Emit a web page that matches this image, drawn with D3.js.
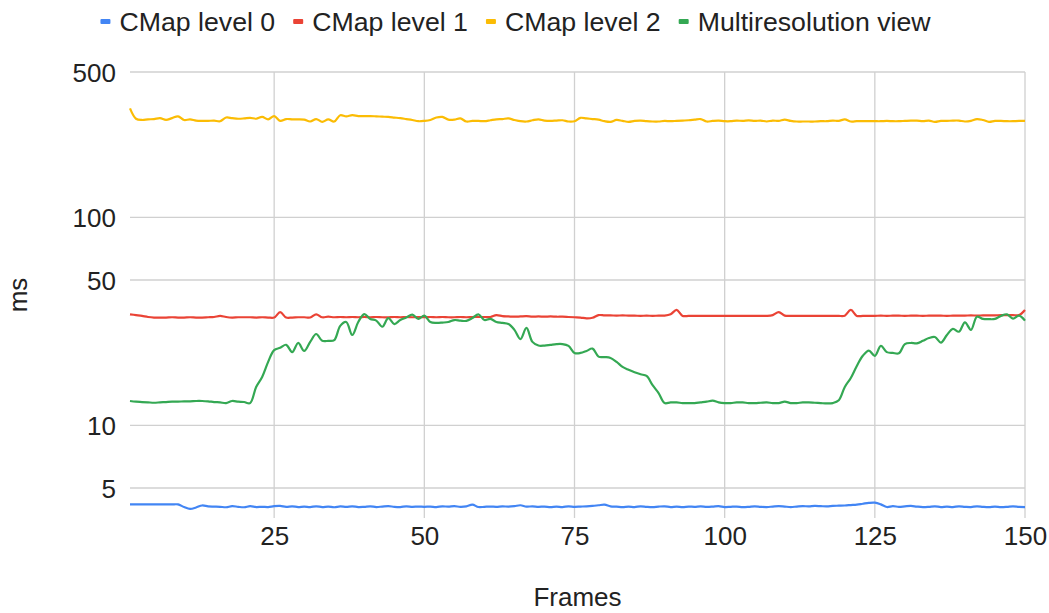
<!DOCTYPE html>
<html><head><meta charset="utf-8">
<script src="https://cdn.jsdelivr.net/npm/d3@7"></script>
<style>body{margin:0;background:#fff;} text{font-family:"Liberation Sans",Arial,sans-serif;fill:#222;}</style>
</head><body><svg id="c" width="1049" height="613"></svg>
<script>
const seriesNames = ["CMap level 0","CMap level 1","CMap level 2","Multiresolution view"];
const seriesColors = ["#4285F4","#EA4335","#FBBC04","#34A853"];
const xTicks = [25,50,75,100,125,150];
const yTicks = [5,10,50,100,500];
const xTitle = "Frames", yTitle = "ms";

const level0 = [4.17,4.17,4.17,4.17,4.17,4.17,4.17,4.17,4.17,4.05,3.97,4.03,4.12,4.08,4.07,4.06,4.04,4.09,4.06,4.04,
4.09,4.05,4.06,4.05,4.09,4.10,4.06,4.08,4.05,4.07,4.05,4.08,4.05,4.07,4.04,4.08,4.06,4.08,4.05,4.06,
4.08,4.05,4.07,4.09,4.06,4.05,4.08,4.06,4.07,4.06,4.07,4.05,4.08,4.07,4.09,4.06,4.08,4.16,4.05,4.06,
4.07,4.06,4.08,4.07,4.09,4.13,4.07,4.08,4.06,4.07,4.05,4.07,4.05,4.08,4.06,4.07,4.08,4.10,4.13,4.16,
4.08,4.07,4.05,4.07,4.05,4.08,4.06,4.05,4.07,4.08,4.05,4.07,4.05,4.07,4.06,4.08,4.06,4.07,4.09,4.05,
4.06,4.07,4.05,4.06,4.08,4.06,4.05,4.07,4.09,4.07,4.05,4.07,4.09,4.08,4.10,4.09,4.08,4.10,4.11,4.12,
4.14,4.16,4.20,4.24,4.25,4.17,4.05,4.09,4.06,4.08,4.10,4.07,4.05,4.06,4.08,4.05,4.07,4.05,4.08,4.06,
4.05,4.08,4.06,4.05,4.07,4.05,4.06,4.08,4.06,4.05];

const level1 = [34.2,33.9,33.6,33.2,33.0,33.0,33.0,33.1,33.0,33.0,33.1,33.0,33.0,33.1,33.2,33.6,33.2,33.0,33.1,33.1,
33.1,33.0,33.1,33.0,33.0,35.0,33.0,33.0,33.1,33.1,33.0,34.2,33.1,33.3,33.1,33.2,33.1,33.2,33.1,33.2,
33.1,33.2,33.1,33.1,33.2,33.1,33.2,33.1,33.2,33.1,33.2,33.1,33.2,33.1,33.1,33.2,33.1,33.2,33.2,33.2,
33.2,33.9,33.5,33.4,33.3,33.4,33.5,33.3,33.4,33.3,33.4,33.3,33.3,33.2,33.1,33.0,32.7,32.9,33.9,33.8,
33.8,33.7,33.8,33.7,33.7,33.6,33.7,33.6,33.7,33.7,34.2,35.9,33.6,33.6,33.6,33.6,33.6,33.6,33.6,33.6,
33.6,33.6,33.6,33.6,33.6,33.6,33.6,33.9,35.0,33.7,33.6,33.6,33.6,33.6,33.6,33.6,33.6,33.6,33.6,33.7,
35.9,33.6,33.6,33.6,33.6,33.7,33.6,33.7,33.7,33.6,33.7,33.7,33.6,33.7,33.7,33.7,33.6,33.7,33.7,33.7,
33.8,33.7,33.8,33.8,33.8,33.9,33.9,33.9,33.9,35.9];

const level2 = [334,298,294,296,297,300,294,300,306,294,296,292,291,291,292,290,302,300,298,299,
301,298,304,296,307,291,297,296,296,295,289,297,288,296,289,310,306,310,307,307,
307,306,305,304,302,300,297,294,290,291,294,302,304,295,295,299,289,291,291,290,
293,296,297,299,294,290,289,293,296,292,291,292,293,289,290,301,299,297,295,290,
288,294,291,288,291,292,290,289,289,291,290,291,292,293,295,297,289,291,292,290,
290,292,291,293,291,292,289,292,291,295,291,289,289,289,289,290,290,292,291,296,
289,290,290,290,290,290,291,290,290,291,292,292,290,292,288,291,291,292,292,289,
291,297,294,288,291,291,290,290,291,291];

const multires = [13.1,13.0,12.95,12.9,12.85,12.9,12.95,13.0,13.0,13.05,13.05,13.1,13.1,13.05,12.95,12.9,12.8,13.1,13.0,12.95,
12.8,15.3,17.1,20.2,23.0,23.6,24.4,22.5,24.9,22.8,25.2,27.5,25.5,25.5,25.7,30.1,31.4,27.2,31.4,34.3,
32.5,31.9,29.8,32.8,30.7,32.1,33.0,34.1,32.5,33.7,31.4,31.1,31.2,31.4,32.1,31.9,31.8,32.8,34.2,32.1,
32.5,31.4,31.1,30.7,28.8,26.0,29.4,25.2,24.2,24.2,24.4,24.6,24.6,24.1,22.3,22.3,22.8,23.4,21.4,21.3,
21.1,20.2,19.1,18.5,18.0,17.6,17.3,15.6,14.3,12.8,12.9,12.9,12.8,12.8,12.8,12.9,13.0,13.15,12.9,12.8,
12.8,12.9,12.9,12.8,12.8,12.85,12.9,12.8,12.8,13.0,12.8,12.8,12.9,12.9,12.85,12.8,12.75,12.8,13.2,15.3,
16.9,19.3,21.6,22.9,21.6,24.1,22.5,22.3,22.2,24.6,24.9,24.8,25.5,26.3,26.6,25.0,27.2,29.1,28.2,31.3,
28.8,33.3,32.5,32.4,32.5,33.6,34.2,32.6,33.7,31.9];

const allSeries = [level0, level1, level2, multires];
const frames = d3.range(1, level0.length + 1);

const svg = d3.select("#c");
const L = 130, R = 1025, T = 72, B = 518;
const x = d3.scaleLinear().domain([1, 150]).range([L, R]);
const y = d3.scaleLog().domain([3.587, 500]).range([B, T]);
const FS = 26;

// gridlines
const g = svg.append("g");
g.selectAll(".hg").data(yTicks).join("line")
  .attr("x1", L).attr("x2", R).attr("y1", d => y(d)).attr("y2", d => y(d))
  .attr("stroke", "#d0d0d0").attr("stroke-width", 1.3);
g.selectAll(".vg").data(xTicks).join("line")
  .attr("x1", d => x(d)).attr("x2", d => x(d)).attr("y1", T).attr("y2", B)
  .attr("stroke", "#d0d0d0").attr("stroke-width", 1.3);

// axes (labels only)
const xAxis = d3.axisBottom(x).tickValues(xTicks).tickSize(0).tickPadding(0).tickFormat(d3.format("d"));
const xa = svg.append("g").attr("transform", `translate(0,${B + 8})`).call(xAxis);
xa.select(".domain").remove();
xa.selectAll("text").attr("font-size", FS).attr("dy", "0.72em").attr("fill", "#222")
  .style("font-family", '"Liberation Sans", Arial, sans-serif');

const yAxis = d3.axisLeft(y).tickValues(yTicks).tickSize(0).tickPadding(0).tickFormat(d3.format("d"));
const ya = svg.append("g").attr("transform", `translate(${L - 14},0)`).call(yAxis);
ya.select(".domain").remove();
ya.selectAll("text").attr("font-size", FS).attr("dy", "0.36em").attr("fill", "#222")
  .style("font-family", '"Liberation Sans", Arial, sans-serif');

// lines
const line = d3.line().curve(d3.curveCatmullRom.alpha(0.5));
allSeries.forEach((s, k) => {
  svg.append("path")
    .attr("d", line(frames.map((f, i) => [x(f), y(s[i])])))
    .attr("fill", "none").attr("stroke", seriesColors[k]).attr("stroke-width", 2.2)
    .attr("stroke-linejoin", "round");
});

// titles
svg.append("text").attr("x", (L + R) / 2).attr("y", 606).attr("text-anchor", "middle")
  .attr("font-size", FS).text(xTitle);
svg.append("text").attr("transform", `translate(27,${(T + B) / 2}) rotate(-90)`)
  .attr("text-anchor", "middle").attr("font-size", FS).text(yTitle);

// legend
const LFS = 26.7;
const leg = svg.append("g");
const items = leg.selectAll("g").data(seriesNames).join("g");
items.append("rect").attr("width", 10).attr("height", 5).attr("y", -2.5)
  .attr("rx", 1).attr("fill", (d, i) => seriesColors[i]);
items.append("text").attr("x", 19).attr("dy", "0.36em").attr("font-size", LFS).text(d => d);
const widths = [];
items.each(function () {
  widths.push(19 + this.querySelector("text").getComputedTextLength());
});
const gap = 18;
const total = d3.sum(widths) + gap * (widths.length - 1);
let start = 515.5 - total / 2;
items.attr("transform", (d, i) => {
  const tx = start; start += widths[i] + gap;
  return `translate(${tx},21.5)`;
});
</script></body></html>
